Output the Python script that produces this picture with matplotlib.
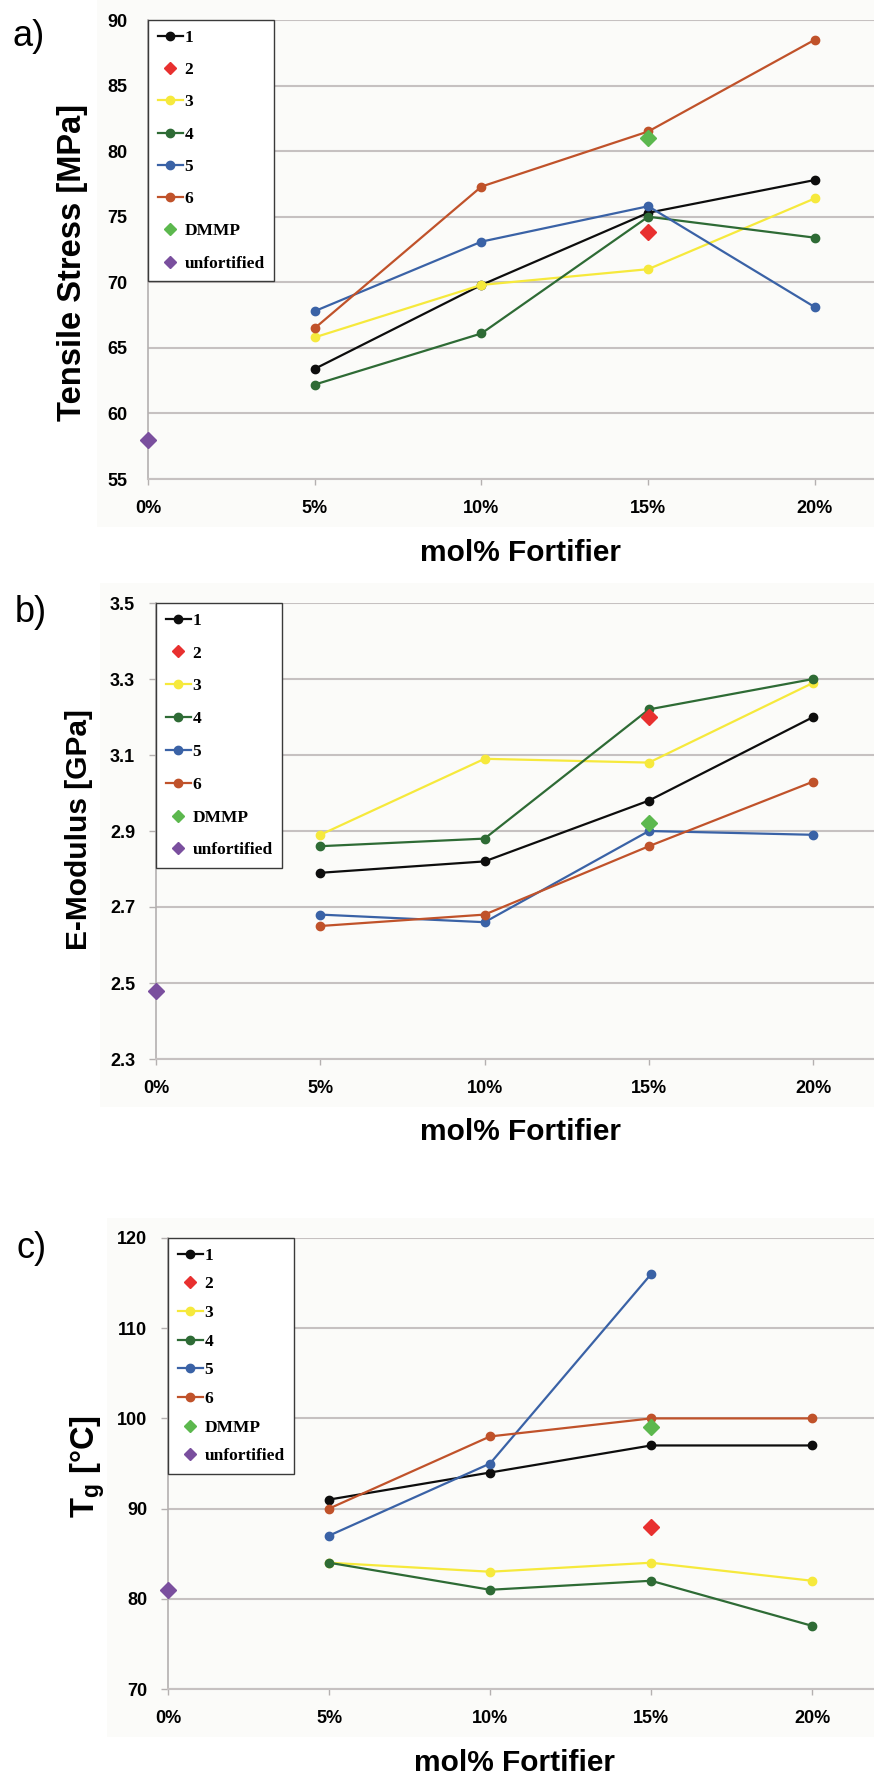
"""
Fortifier content vs. tensile stress, E-modulus and Tg (panels a-c)
"""

import matplotlib
matplotlib.use("Agg")
import matplotlib.pyplot as plt
from matplotlib.lines import Line2D
from matplotlib.patches import Rectangle

plt.rcParams["mathtext.fontset"] = "custom"
plt.rcParams["mathtext.bf"] = "Liberation Sans:bold"
plt.rcParams["mathtext.rm"] = "Liberation Sans"

# ---- data -------------------------------------------------------------
X_POS = [5, 10, 15, 20]
X_SINGLE = 15          # samples 2 and DMMP only measured at 15 mol%
X_UNFORT = 0
X_TICKS = [0, 5, 10, 15, 20]
X_TICK_LABELS = ["0%", "5%", "10%", "15%", "20%"]
SERIES = ["1", "2", "3", "4", "5", "6", "DMMP", "unfortified"]

# a) tensile stress [MPa]
ts_1 = [63.4, 69.8, 75.3, 77.8]
ts_3 = [65.8, 69.8, 71.0, 76.4]
ts_4 = [62.2, 66.1, 75.0, 73.4]
ts_5 = [67.8, 73.1, 75.8, 68.1]
ts_6 = [66.5, 77.3, 81.5, 88.5]
ts_2 = 73.8
ts_dmmp = 81.0
ts_unfort = 58.0
ts_yticks = [55, 60, 65, 70, 75, 80, 85, 90]

# b) E-modulus [GPa]
em_1 = [2.79, 2.82, 2.98, 3.20]
em_3 = [2.89, 3.09, 3.08, 3.29]
em_4 = [2.86, 2.88, 3.22, 3.30]
em_5 = [2.68, 2.66, 2.90, 2.89]
em_6 = [2.65, 2.68, 2.86, 3.03]
em_2 = 3.20
em_dmmp = 2.92
em_unfort = 2.48
em_yticks = [2.3, 2.5, 2.7, 2.9, 3.1, 3.3, 3.5]

# c) Tg [°C]
tg_1 = [91, 94, 97, 97]
tg_3 = [84, 83, 84, 82]
tg_4 = [84, 81, 82, 77]
tg_5 = [87, 95, 116]
tg_6 = [90, 98, 100, 100]
tg_2 = 88
tg_dmmp = 99
tg_unfort = 81
tg_yticks = [70, 80, 90, 100, 110, 120]

COLORS = {
    "1": "#0d0d0d",
    "2": "#e8302f",
    "3": "#f6e93c",
    "4": "#2e6b35",
    "5": "#3a62a6",
    "6": "#c0522a",
    "DMMP": "#5cb84e",
    "unfortified": "#7a4f9e",
}

W, H = 874, 1778
TICK_FONT = ["Liberation Sans Narrow", "Liberation Sans"]
LABEL_FONT = "Liberation Sans"


def draw_panel(fig, box, xmax, lines, p2, dmmp, unfort, yticks, ylabel, ylabel_size,
               ylabel_xy, xlabel_xy, tag, tag_xy, bg, ytick_len, spacing):
    left, top, right, bottom = box
    ax = fig.add_axes([left / W, 1 - bottom / H, (right - left) / W, (bottom - top) / H])
    ax.set_facecolor("none")

    for name, vals in lines:
        ax.plot(X_POS[:len(vals)], vals, color=COLORS[name], lw=1.6, marker="o",
                ms=6, zorder=3)
    ax.plot([X_SINGLE], [p2], ls="none", marker="D", ms=8, color=COLORS["2"], zorder=4)
    ax.plot([X_SINGLE], [dmmp], ls="none", marker="D", ms=8, color=COLORS["DMMP"], zorder=4)
    ax.plot([X_UNFORT], [unfort], ls="none", marker="D", ms=8, color=COLORS["unfortified"],
            zorder=4, clip_on=False)

    ax.set_xlim(0, xmax)
    ax.set_ylim(yticks[0], yticks[-1])
    ax.set_yticks(yticks)
    ax.set_yticklabels([f"{v}" if isinstance(v, int) else f"{v:.1f}" for v in yticks])
    ax.set_xticks(X_TICKS)
    ax.set_xticklabels(X_TICK_LABELS)
    ax.grid(axis="y", color="#c6c1c1", lw=1.5)
    ax.set_axisbelow(True)
    for s in ["top", "right"]:
        ax.spines[s].set_visible(False)
    ax.spines["left"].set_color("#b4b0b0")
    ax.spines["left"].set_linewidth(1.2)
    ax.spines["bottom"].set_color("#c6c1c1")
    ax.spines["bottom"].set_linewidth(1.5)
    ax.tick_params(axis="x", length=4, width=1, color="#b4b0b0", pad=11)
    ax.tick_params(axis="y", length=ytick_len, width=1, color="#b4b0b0",
                   pad=15 - ytick_len)
    for lab in ax.get_xticklabels() + ax.get_yticklabels():
        lab.set_family(TICK_FONT)
        lab.set_fontweight("bold")
        lab.set_fontsize(13)

    handles = []
    for name in SERIES:
        if name in ("2", "DMMP", "unfortified"):
            handles.append(Line2D([], [], ls="none", marker="D", ms=6.5, color=COLORS[name]))
        else:
            handles.append(Line2D([], [], lw=1.6, marker="o", ms=6, color=COLORS[name]))
    leg = ax.legend(handles, SERIES, loc="upper left", bbox_to_anchor=(0, 1),
                    borderaxespad=0, fancybox=False, framealpha=1, edgecolor="#3a3a3a",
                    handlelength=1.45, handletextpad=0.1, borderpad=0.55,
                    labelspacing=spacing, numpoints=1,
                    prop={"family": "Liberation Serif", "weight": "bold", "size": 12.5})
    leg.get_frame().set_linewidth(1.0)
    leg.set_zorder(5)

    fig.text(ylabel_xy[0] / W, 1 - ylabel_xy[1] / H, ylabel, rotation=90,
             ha="center", va="center", fontsize=ylabel_size, fontweight="bold",
             family=LABEL_FONT)
    fig.text(xlabel_xy[0] / W, 1 - xlabel_xy[1] / H, "mol% Fortifier",
             ha="center", va="center", fontsize=21.5, fontweight="bold", family=LABEL_FONT)
    fig.text(tag_xy[0] / W, 1 - tag_xy[1] / H, tag, ha="left", va="center",
             fontsize=26, family=LABEL_FONT)

    bx0, by0, bx1, by1 = bg
    fig.patches.append(Rectangle((bx0 / W, 1 - by1 / H), (bx1 - bx0) / W, (by1 - by0) / H,
                                 transform=fig.transFigure, facecolor="#fbfbf9",
                                 edgecolor="none", zorder=-10))
    return ax


def main():
    fig = plt.figure(figsize=(W / 100, H / 100), dpi=100)
    fig.patch.set_facecolor("white")

    draw_panel(fig, (148, 20, 874, 479), 21.77,
               [("1", ts_1), ("3", ts_3), ("4", ts_4), ("5", ts_5), ("6", ts_6)],
               ts_2, ts_dmmp, ts_unfort, ts_yticks, "Tensile Stress [MPa]", 23.5,
               (73, 262), (521, 553), "a)", (12, 36), (97, 0, 874, 527), 0, 0.93)

    draw_panel(fig, (156, 603, 874, 1059), 21.85,
               [("1", em_1), ("3", em_3), ("4", em_4), ("5", em_5), ("6", em_6)],
               em_2, em_dmmp, em_unfort, em_yticks, "E-Modulus [GPa]", 21.5,
               (79, 830), (520, 1132), "b)", (15, 612), (100, 583, 874, 1107), 5, 0.96)

    draw_panel(fig, (168, 1238, 874, 1689), 21.92,
               [("1", tg_1), ("3", tg_3), ("4", tg_4), ("5", tg_5), ("6", tg_6)],
               tg_2, tg_dmmp, tg_unfort, tg_yticks, r"T$_\mathbf{g}$ [°C]", 23.5,
               (88, 1467), (515, 1763), "c)", (16, 1249), (107, 1218, 874, 1737), 5, 0.72)

    fig.savefig("out.png", dpi=100)
    plt.close(fig)


if __name__ == "__main__":
    main()
